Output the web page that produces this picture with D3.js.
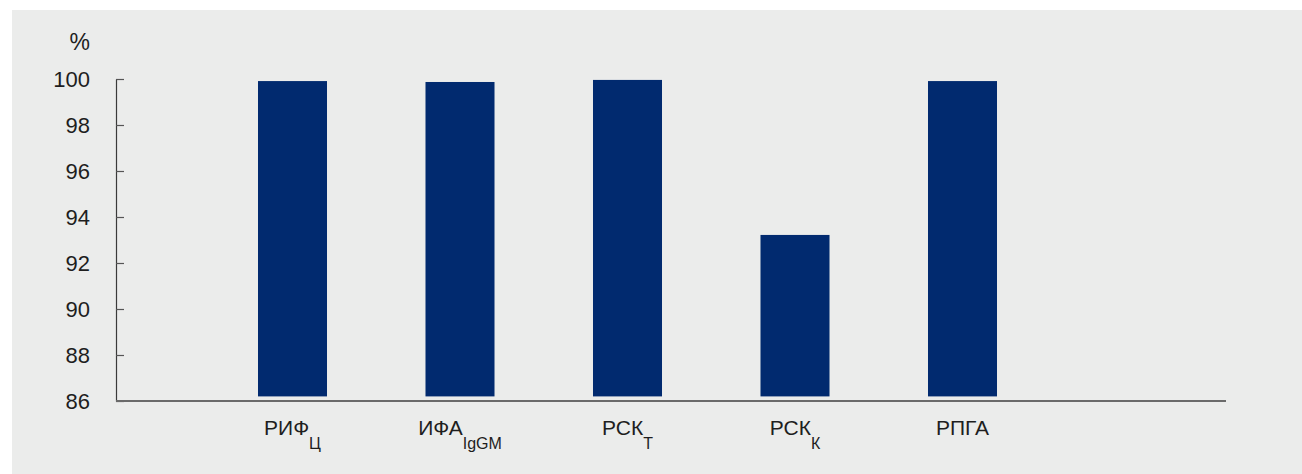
<!DOCTYPE html>
<html>
<head>
<meta charset="utf-8">
<script src="https://cdn.jsdelivr.net/npm/d3@7"></script>
<style>
  html, body { margin: 0; padding: 0; background: #ffffff; }
  svg { display: block; }
</style>
</head>
<body>
<svg id="chart" width="1302" height="474"></svg>
<script>
// Test names (main part and subscript) and the share of positive results, %
const categories = ["РИФ", "ИФА", "РСК", "РСК", "РПГА"];
const subscripts = ["Ц", "IgGM", "Т", "К", ""];
const values = [99.91, 99.87, 99.96, 93.22, 99.91];
const yTicks = [86, 88, 90, 92, 94, 96, 98, 100];
const barBase = 86.2;

const svg = d3.select("#chart");
const W = 1302, H = 474;

// grey panel
svg.append("rect")
  .attr("x", 12).attr("y", 10)
  .attr("width", W - 12).attr("height", H - 10)
  .attr("fill", "#ebeceb");

const axisLeftX = 116, axisRightX = 1226;
const y = d3.scaleLinear().domain([86, 100]).range([401, 79]);

const ids = categories.map((c, i) => i);
const x = d3.scaleBand()
  .domain(ids)
  .range([208.75, 1046.25])
  .paddingInner(0.588)
  .paddingOuter(0.294);

// bars
svg.append("g")
  .selectAll("rect")
  .data(values)
  .join("rect")
  .attr("x", (d, i) => x(i))
  .attr("width", x.bandwidth())
  .attr("y", d => y(d))
  .attr("height", d => y(barBase) - y(d))
  .attr("fill", "#012a6f");

// y axis, ticks pointing inward
const yAxis = d3.axisLeft(y)
  .tickValues(yTicks)
  .tickSizeInner(-8)
  .tickSizeOuter(0)
  .tickPadding(26)
  .tickFormat(d3.format("d"));

const gy = svg.append("g")
  .attr("transform", `translate(${axisLeftX},0)`)
  .call(yAxis);
gy.select(".domain").attr("stroke", "#3a3a3a").attr("stroke-width", 1.2);
gy.selectAll(".tick line").attr("stroke", "#555").attr("stroke-width", 1.2);
gy.selectAll(".tick text")
  .attr("fill", "#1e1e1e")
  .style("font-family", "'Liberation Sans', Arial, sans-serif")
  .style("font-size", "22px");

// unit label
svg.append("text")
  .attr("x", 90).attr("y", 50)
  .attr("text-anchor", "end")
  .attr("fill", "#1e1e1e")
  .style("font-family", "'Liberation Sans', Arial, sans-serif")
  .style("font-size", "23px")
  .text("%");

// x axis baseline
svg.append("line")
  .attr("x1", axisLeftX).attr("x2", axisRightX)
  .attr("y1", y(86)).attr("y2", y(86))
  .attr("stroke", "#6a6a6a")
  .attr("stroke-width", 2);

// category labels with subscripts
const labels = svg.append("g")
  .style("font-family", "'Liberation Sans', Arial, sans-serif")
  .attr("fill", "#1e1e1e");

labels.selectAll("text")
  .data(ids)
  .join("text")
  .attr("x", i => x(i) + x.bandwidth() / 2)
  .attr("y", 435)
  .attr("text-anchor", "middle")
  .each(function (i) {
    const t = d3.select(this);
    t.append("tspan").style("font-size", "21px").text(categories[i]);
    if (subscripts[i]) {
      t.append("tspan")
        .attr("dy", 14)
        .style("font-size", "16px")
        .text(subscripts[i]);
    }
  });
</script>
</body>
</html>
